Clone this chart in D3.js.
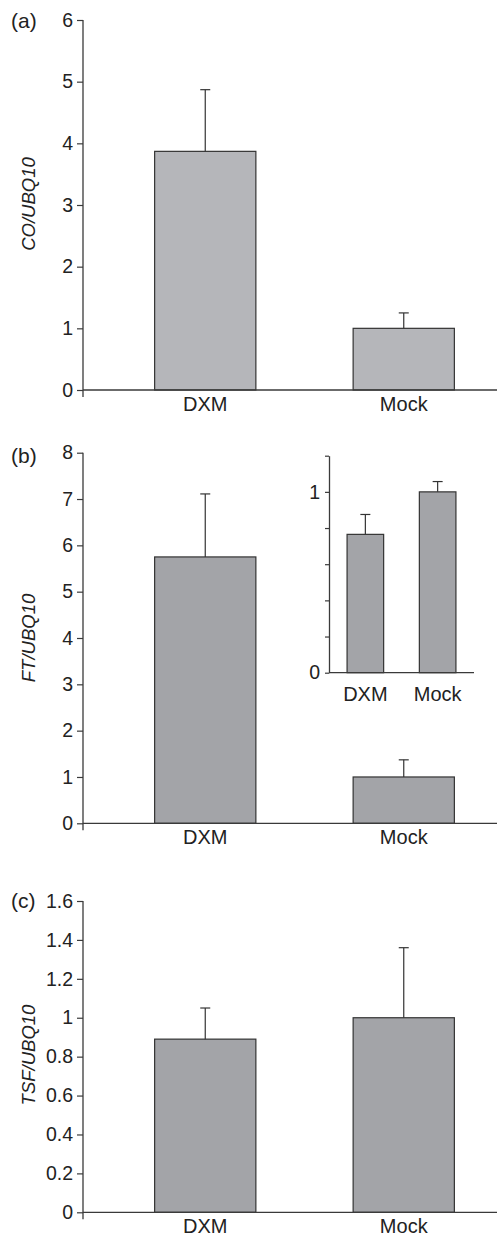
<!DOCTYPE html>
<html>
<head>
<meta charset="utf-8">
<script src="https://cdn.jsdelivr.net/npm/d3@7"></script>
<style>
  body { margin: 0; background: #fff; }
  text { font-family: 'Liberation Sans', Arial, sans-serif; fill: #222; }
</style>
</head>
<body>
<div id="chart"></div>
<script>
// data
const categories = ['DXM', 'Mock']

const coMeans = [3.87, 1.0]
const coErr = [1.0, 0.25]
const coTicks = [0, 1, 2, 3, 4, 5, 6]

const ftMeans = [5.75, 1.0]
const ftErr = [1.36, 0.37]
const ftTicks = [0, 1, 2, 3, 4, 5, 6, 7, 8]

const insetMeans = [0.765, 1.0]
const insetErr = [0.11, 0.057]
const insetTicks = [0, 0.2, 0.4, 0.6, 0.8, 1.0, 1.2]
const insetLabelled = [0, 1]

const tsfMeans = [0.89, 1.0]
const tsfErr = [0.16, 0.36]
const tsfTicks = [0, 0.2, 0.4, 0.6, 0.8, 1.0, 1.2, 1.4, 1.6]

const width = 498
const height = 1238
const axisX = 83
const axisRight = 497
const axisColor = '#3a3a3a'
const tickFont = '19.5px'
const catFont = '20px'

const svg = d3.select('#chart').append('svg')
  .attr('width', width)
  .attr('height', height)

// main x scale shared by the three panels
const xScale = d3.scaleBand()
  .domain(categories)
  .range([106, 503])
  .paddingInner(0.49)
  .paddingOuter(0.245)

function makePanel(opts) {
  const {letter, letterY, yLabel, yCentre, means, errs, ticks, top, bottom, fill} = opts
  const g = svg.append('g')
  const yScale = d3.scaleLinear().domain([0, ticks[ticks.length - 1]]).range([bottom, top])
  const data = categories.map((c, i) => ({cat: c, v: means[i], e: errs[i]}))

  // bars
  g.selectAll('rect.bar').data(data).enter().append('rect')
    .attr('class', 'bar')
    .attr('x', d => xScale(d.cat))
    .attr('width', xScale.bandwidth())
    .attr('y', d => yScale(d.v))
    .attr('height', d => yScale(0) - yScale(d.v))
    .attr('fill', fill)
    .attr('stroke', '#333')
    .attr('stroke-width', 1.2)

  // error bars (upper only)
  const eb = g.selectAll('g.err').data(data).enter().append('g').attr('class', 'err')
  eb.append('line')
    .attr('x1', d => xScale(d.cat) + xScale.bandwidth() / 2)
    .attr('x2', d => xScale(d.cat) + xScale.bandwidth() / 2)
    .attr('y1', d => yScale(d.v))
    .attr('y2', d => yScale(d.v + d.e))
    .attr('stroke', '#333').attr('stroke-width', 1.2)
  eb.append('line')
    .attr('x1', d => xScale(d.cat) + xScale.bandwidth() / 2 - 5)
    .attr('x2', d => xScale(d.cat) + xScale.bandwidth() / 2 + 5)
    .attr('y1', d => yScale(d.v + d.e))
    .attr('y2', d => yScale(d.v + d.e))
    .attr('stroke', '#333').attr('stroke-width', 1.2)

  // y axis
  const yAxis = d3.axisLeft(yScale)
    .tickValues(ticks)
    .tickFormat(d3.format('~g'))
    .tickSize(6)
    .tickPadding(4)
    .tickSizeOuter(0)
  const ga = g.append('g').attr('transform', `translate(${axisX},0)`).call(yAxis)
  ga.select('.domain').remove()
  ga.selectAll('.tick line').attr('stroke', axisColor).attr('stroke-width', 1.2)
  ga.selectAll('.tick text')
    .style('font-family', "'Liberation Sans', Arial, sans-serif")
    .style('font-size', tickFont)
    .attr('fill', '#222')

  g.append('line')
    .attr('x1', axisX).attr('x2', axisX)
    .attr('y1', yScale(ticks[ticks.length - 1]))
    .attr('y2', yScale(0) + 7)
    .attr('stroke', axisColor).attr('stroke-width', 1.3)

  // x axis line
  g.append('line')
    .attr('x1', axisX).attr('x2', axisRight)
    .attr('y1', yScale(0)).attr('y2', yScale(0))
    .attr('stroke', axisColor).attr('stroke-width', 1.3)

  // category labels
  g.selectAll('text.cat').data(categories).enter().append('text')
    .attr('class', 'cat')
    .attr('x', d => xScale(d) + xScale.bandwidth() / 2)
    .attr('y', yScale(0) + 21)
    .attr('text-anchor', 'middle')
    .style('font-size', catFont)
    .text(d => d)

  // panel letter
  g.append('text')
    .attr('x', 11)
    .attr('y', letterY)
    .style('font-size', '21px')
    .text(letter)

  // y label
  g.append('text')
    .attr('transform', `translate(35,${yCentre}) rotate(-90)`)
    .attr('text-anchor', 'middle')
    .style('font-size', '18.5px')
    .style('font-style', 'italic')
    .text(yLabel)

  return g
}

makePanel({
  letter: '(a)', letterY: 28, yLabel: 'CO/UBQ10', yCentre: 204,
  means: coMeans, errs: coErr, ticks: coTicks, top: 20, bottom: 390, fill: '#b5b6ba'
})

makePanel({
  letter: '(b)', letterY: 463, yLabel: 'FT/UBQ10', yCentre: 638,
  means: ftMeans, errs: ftErr, ticks: ftTicks, top: 452.7, bottom: 823.3, fill: '#a3a4a8'
})

makePanel({
  letter: '(c)', letterY: 908, yLabel: 'TSF/UBQ10', yCentre: 1055,
  means: tsfMeans, errs: tsfErr, ticks: tsfTicks, top: 901, bottom: 1212.3, fill: '#a3a4a8'
})

// inset in panel (b)
const insetX = d3.scaleBand()
  .domain(categories)
  .range([329, 474])
  .paddingInner(0.494)
  .paddingOuter(0.25)
const insetY = d3.scaleLinear().domain([0, 1.2]).range([672.7, 455.7])
const gi = svg.append('g')
const insetData = categories.map((c, i) => ({cat: c, v: insetMeans[i], e: insetErr[i]}))

gi.selectAll('rect').data(insetData).enter().append('rect')
  .attr('x', d => insetX(d.cat))
  .attr('width', insetX.bandwidth())
  .attr('y', d => insetY(d.v))
  .attr('height', d => insetY(0) - insetY(d.v))
  .attr('fill', '#a3a4a8')
  .attr('stroke', '#333')
  .attr('stroke-width', 1.2)

const ieb = gi.selectAll('g.err').data(insetData).enter().append('g').attr('class', 'err')
ieb.append('line')
  .attr('x1', d => insetX(d.cat) + insetX.bandwidth() / 2)
  .attr('x2', d => insetX(d.cat) + insetX.bandwidth() / 2)
  .attr('y1', d => insetY(d.v))
  .attr('y2', d => insetY(d.v + d.e))
  .attr('stroke', '#333').attr('stroke-width', 1.2)
ieb.append('line')
  .attr('x1', d => insetX(d.cat) + insetX.bandwidth() / 2 - 5)
  .attr('x2', d => insetX(d.cat) + insetX.bandwidth() / 2 + 5)
  .attr('y1', d => insetY(d.v + d.e))
  .attr('y2', d => insetY(d.v + d.e))
  .attr('stroke', '#333').attr('stroke-width', 1.2)

const insetAxis = d3.axisLeft(insetY)
  .tickValues(insetTicks)
  .tickFormat(d => insetLabelled.includes(d) ? d3.format('~g')(d) : '')
  .tickSize(4)
  .tickPadding(5)
  .tickSizeOuter(0)
const gia = gi.append('g').attr('transform', 'translate(329,0)').call(insetAxis)
gia.select('.domain').attr('stroke', axisColor).attr('stroke-width', 1.3)
gia.selectAll('.tick line').attr('stroke', axisColor).attr('stroke-width', 1.2)
gia.selectAll('.tick text')
  .style('font-family', "'Liberation Sans', Arial, sans-serif")
  .style('font-size', tickFont)
  .attr('fill', '#222')

gi.append('line')
  .attr('x1', 329).attr('x2', 474)
  .attr('y1', insetY(0)).attr('y2', insetY(0))
  .attr('stroke', axisColor).attr('stroke-width', 1.3)

gi.selectAll('text.cat').data(categories).enter().append('text')
  .attr('class', 'cat')
  .attr('x', d => insetX(d) + insetX.bandwidth() / 2)
  .attr('y', insetY(0) + 28)
  .attr('text-anchor', 'middle')
  .style('font-size', catFont)
  .text(d => d)
</script>
</body>
</html>
